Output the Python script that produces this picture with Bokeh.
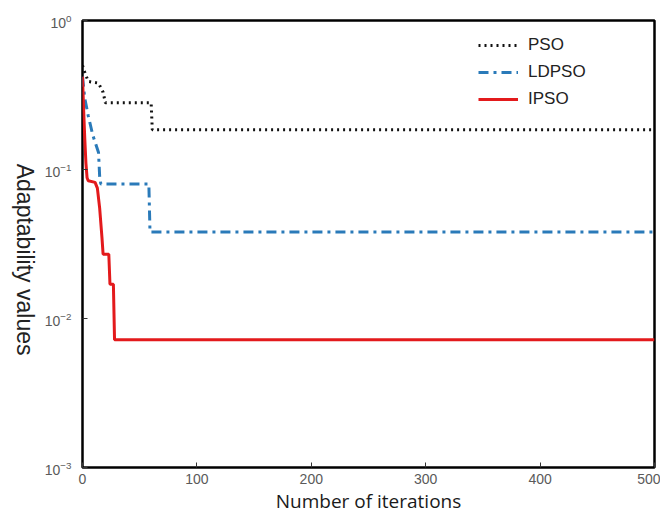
import math
from bokeh.plotting import figure
from bokeh.layouts import row
from bokeh.models import Label, Range1d, Legend, LegendItem
from bokeh.embed import file_html
from bokeh.resources import INLINE

# ---- data ----
pso_iter = [0, 2, 5, 14, 18, 20, 60, 61, 500]
pso_val = [0.50, 0.45, 0.39, 0.38, 0.33, 0.28, 0.28, 0.185, 0.185]

ldpso_iter = [0, 2, 5, 9, 12, 14, 15, 16, 58, 59, 500]
ldpso_val = [0.42, 0.30, 0.23, 0.17, 0.145, 0.13, 0.09, 0.08, 0.08, 0.038, 0.038]

ipso_iter = [0, 1, 2, 3, 4, 5, 11, 13, 15, 17, 18, 23, 24, 27, 28, 500]
ipso_val = [0.42, 0.25, 0.16, 0.11, 0.088, 0.084, 0.082, 0.075, 0.055, 0.035,
            0.027, 0.027, 0.017, 0.017, 0.0072, 0.0072]

series_names = ["PSO", "LDPSO", "IPSO"]
x_ticks = [0, 100, 200, 300, 400, 500]
x_label = "Number of iterations"
y_label = "Adaptability values"

H = 516
LEFT_W = 40

p = figure(width=660 - LEFT_W, height=H, y_axis_type="log",
           x_range=Range1d(0, 500), y_range=Range1d(1e-3, 1),
           output_backend="svg", toolbar_location=None,
           min_border_left=42, min_border_right=6,
           min_border_top=20, min_border_bottom=47)

p.background_fill_color = "white"
p.border_fill_color = "white"
p.grid.visible = False
p.outline_line_color = "black"
p.outline_line_width = 2.5
p.outline_line_alpha = 1.0

r_pso = p.line(pso_iter, pso_val, line_color="#111111", line_width=3,
               line_dash="2 4")
r_ld = p.line(ldpso_iter, ldpso_val, line_color="#2a7ab9", line_width=3,
              line_dash="10 5 3 5")
r_ip = p.line(ipso_iter, ipso_val, line_color="#e31a1c", line_width=3)

for ax in (p.xaxis[0], p.yaxis[0]):
    ax.axis_line_color = None
    ax.major_tick_in = 5
    ax.major_tick_out = 0
    ax.major_tick_line_color = "#333333"
    ax.minor_tick_line_color = None
    ax.major_label_text_font = "Liberation Sans"
    ax.major_label_text_font_size = "14px"
    ax.major_label_text_color = "#5a5a5a"

p.xaxis.ticker = x_ticks
p.xaxis.major_label_standoff = 6
p.xaxis.axis_label = x_label
p.xaxis.axis_label_text_font = "Open Sans"
p.xaxis.axis_label_text_font_size = "19px"
p.xaxis.axis_label_text_font_style = "normal"
p.xaxis.axis_label_text_color = "#1a1a1a"
p.xaxis.axis_label_standoff = 1

p.yaxis.major_label_standoff = 7

legend = Legend(items=[LegendItem(label=series_names[0], renderers=[r_pso]),
                       LegendItem(label=series_names[1], renderers=[r_ld]),
                       LegendItem(label=series_names[2], renderers=[r_ip])],
                location=(396, 358))
legend.border_line_color = None
legend.background_fill_alpha = 0
legend.label_text_font = "Liberation Sans"
legend.label_text_font_size = "17px"
legend.label_text_color = "#222222"
legend.glyph_width = 40
legend.glyph_height = 20
legend.label_height = 20
legend.label_standoff = 10
legend.spacing = 7
legend.padding = 8
legend.margin = 0
p.add_layout(legend)

# left strip holding the (top-to-bottom) y-axis title
q = figure(width=LEFT_W, height=H, x_range=Range1d(0, LEFT_W),
           y_range=Range1d(0, H), output_backend="svg",
           toolbar_location=None, min_border=0)
q.axis.visible = False
q.grid.visible = False
q.outline_line_color = None
q.background_fill_color = "white"
q.border_fill_color = "white"
ylab = Label(x=24, y=H - 276, text=y_label, angle=-math.pi / 2,
             text_align="center", text_baseline="middle",
             text_font="Liberation Sans", text_font_size="23px",
             text_color="#222222")
q.add_layout(ylab)

layout = row(q, p, spacing=0)

open("out.html", "w").write(file_html(layout, INLINE))
